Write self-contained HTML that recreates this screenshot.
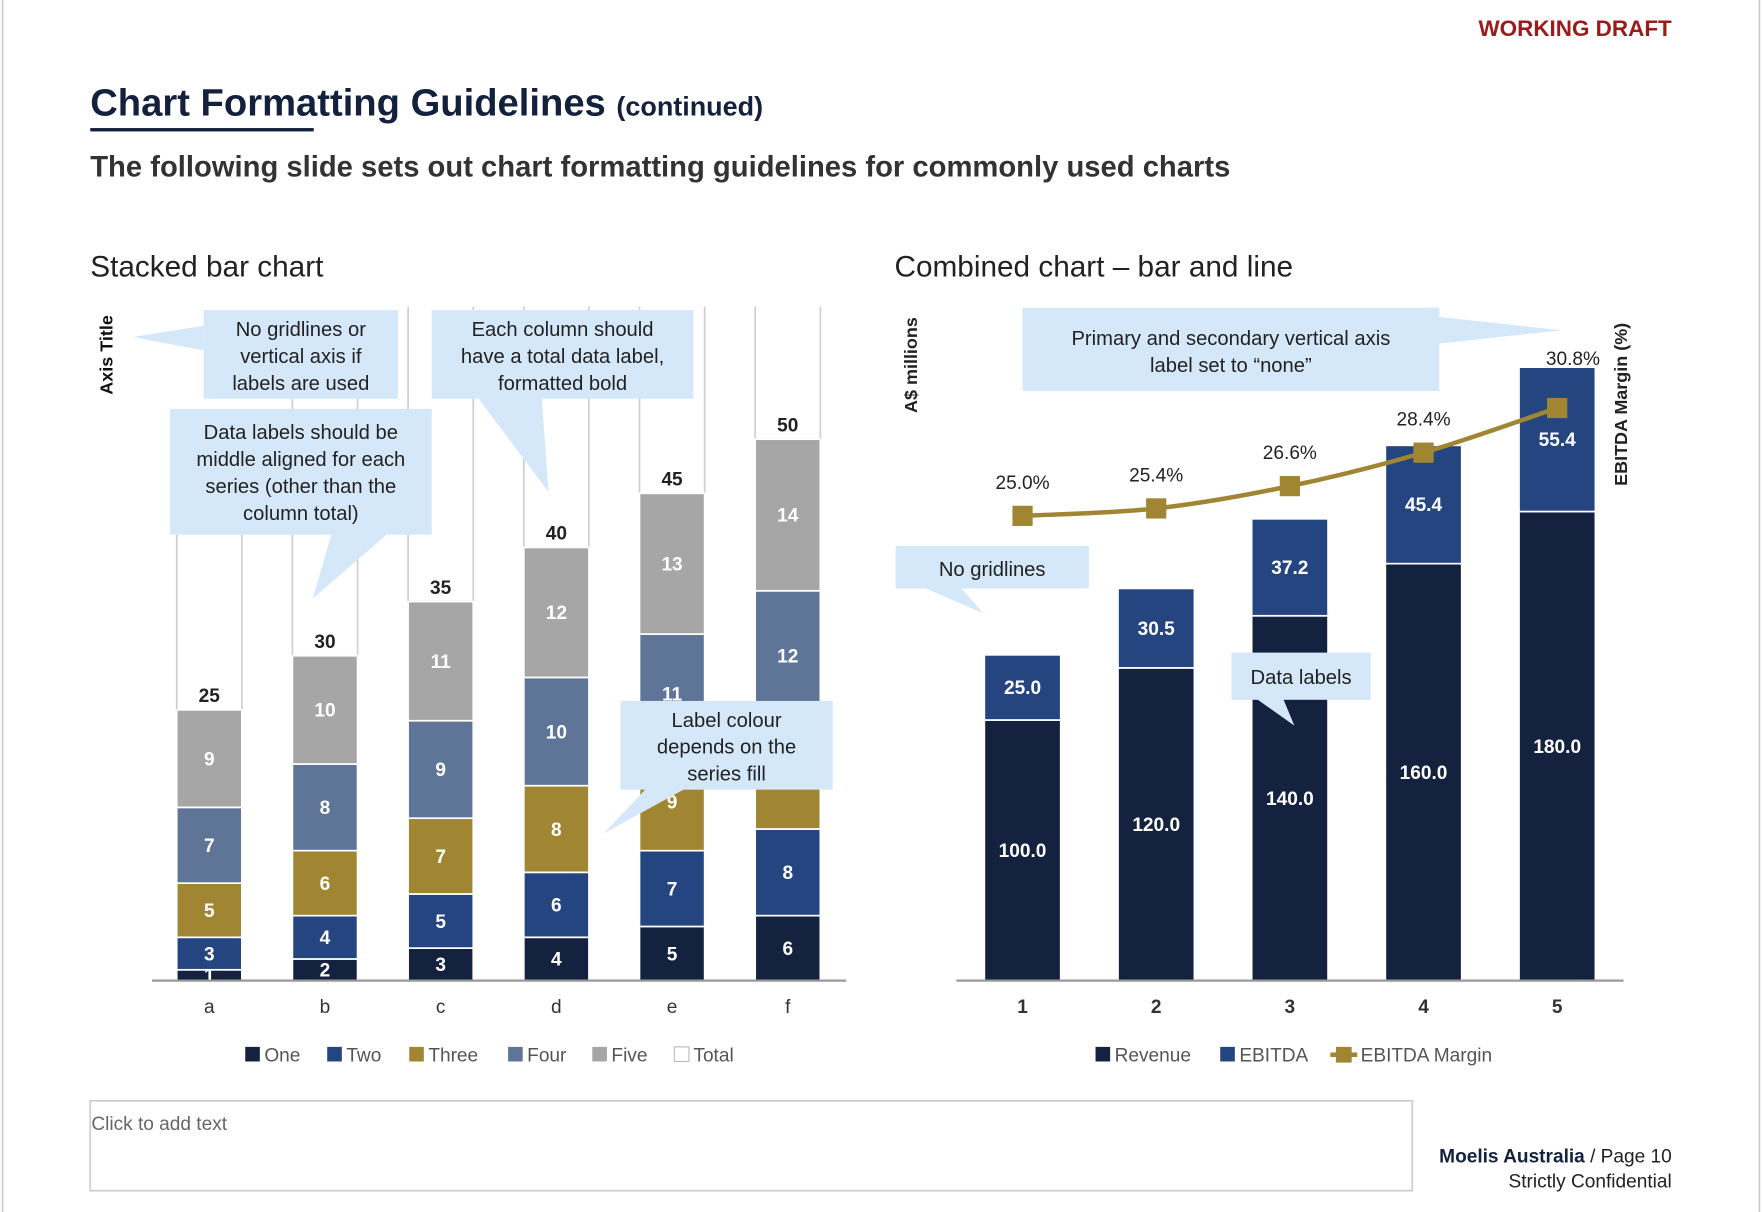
<!DOCTYPE html>
<html><head><meta charset="utf-8">
<style>
html,body{margin:0;padding:0;background:#fff;}
svg{display:block;font-family:"Liberation Sans",Arial,sans-serif;}
</style></head>
<body>
<svg id="root" width="1762" height="1212" viewBox="0 0 1568 1079">
<rect x="0" y="0" width="1568" height="1079" fill="#fff"/>
<line x1="2" y1="0" x2="2" y2="1079" stroke="#ccc" stroke-width="1.5"/>
<line x1="1566" y1="0" x2="1566" y2="1079" stroke="#ccc" stroke-width="1.5"/>
<text x="1488" y="32" text-anchor="end" font-size="20" font-weight="bold" fill="#9b1b1b">WORKING DRAFT</text>
<text x="80" y="103" font-size="34" font-weight="bold" fill="#14213d">Chart Formatting Guidelines <tspan font-size="24">(continued)</tspan></text>
<rect x="80" y="114" width="199" height="3" fill="#14213d"/>
<text x="80" y="157" font-size="26" font-weight="bold" fill="#333">The following slide sets out chart formatting guidelines for commonly used charts</text>
<text x="80" y="246" font-size="26.5" fill="#222">Stacked bar chart</text>
<text x="796" y="246" font-size="26.5" fill="#222">Combined chart – bar and line</text>

<g id="left"></g>
<g id="right"></g>
<g id="callouts"></g>

<rect x="80" y="980" width="1177" height="80" fill="#fff" stroke="#ccc" stroke-width="1.5"/>
<text x="81" y="1006" font-size="17" fill="#666">Click to add text</text>
<text x="1488" y="1035" text-anchor="end" font-size="17" fill="#222"><tspan font-weight="bold" fill="#14213d">Moelis Australia</tspan> / Page 10</text>
<text x="1488" y="1057" text-anchor="end" font-size="17" fill="#222">Strictly Confidential</text>
</svg>
<script>
const NS='http://www.w3.org/2000/svg';
function mk(parent,tag,attrs,text){const e=document.createElementNS(NS,tag);for(const k in attrs)e.setAttribute(k,attrs[k]);if(text!==undefined)e.textContent=text;parent.appendChild(e);return e;}

// ---- Stacked chart data ----
const stackCategories=['a','b','c','d','e','f'];
const seriesNames=['One','Two','Three','Four','Five'];
const seriesOne=[1,2,3,4,5,6];
const seriesTwo=[3,4,5,6,7,8];
const seriesThree=[5,6,7,8,9,10];
const seriesFour=[7,8,9,10,11,12];
const seriesFive=[9,10,11,12,13,14];
const seriesColors=['#15223f','#24457f','#a08633','#5f7597','#a6a6a6'];

// ---- Combined chart data ----
const comboCategories=['1','2','3','4','5'];
const revenue=[100,120,140,160,180];
const ebitda=[25,30.5,37.2,45.4,55.4];
const ebitdaMargin=[25.0,25.4,26.6,28.4,30.8];

// ---- Stacked chart ----
(function(){
  const g=document.getElementById('left');
  const base=873, top=273, pxPerUnit=9.64;
  const yS=v=>base-v*pxPerUnit;
  const xS=i=>186+i*103;
  const bw=58;
  const all=[seriesOne,seriesTwo,seriesThree,seriesFour,seriesFive];
  const clip=mk(g,'clipPath',{id:'lclip'});mk(clip,'rect',{x:100,y:top,width:700,height:base-top});
  stackCategories.forEach((c,i)=>{
    let cum=0;all.forEach(s=>cum+=s[i]);const total=cum;
    const tb=mk(g,'rect',{x:xS(i)-bw/2,y:yS(total*2),width:bw,height:yS(total)-yS(total*2),fill:'#fff',stroke:'#cfcfcf','stroke-width':1.5,'clip-path':'url(#lclip)'});
    
    
    let acc=0;
    all.forEach((s,k)=>{
      const v=s[i];
      const r=mk(g,'rect',{x:xS(i)-bw/2,y:yS(acc+v),width:bw,height:yS(acc)-yS(acc+v),fill:seriesColors[k],stroke:'#fff','stroke-width':1.5});
      
      
      const t=mk(g,'text',{x:xS(i),y:(yS(acc)+yS(acc+v))/2+6,'text-anchor':'middle','font-size':17,'font-weight':'bold',fill:'#fff'},String(v));
      
      
      acc+=v;
    });
    const tl=mk(g,'text',{x:xS(i),y:yS(total)-7,'text-anchor':'middle','font-size':17,'font-weight':'900',fill:'#222'},String(total));
    
    
    const xl=mk(g,'text',{x:xS(i),y:902,'text-anchor':'middle','font-size':17,fill:'#333'},c);
    
    
  });
  const ax=mk(g,'line',{x1:135,y1:base,x2:753,y2:base,stroke:'#999','stroke-width':2});
  
  
  const at=mk(g,'text',{transform:'translate(100,316) rotate(-90)','text-anchor':'middle','font-size':16,'font-weight':'900',fill:'#111'},'Axis Title');
  
  
  const lx=[218,291,364,452,527,600];
  ['One','Two','Three','Four','Five','Total'].forEach((n,k)=>{
    const sw=mk(g,'rect',{x:lx[k],y:932,width:13,height:13,fill:k<5?seriesColors[k]:'#fff',stroke:k<5?'none':'#bbb'});
    
    
    const t=mk(g,'text',{x:lx[k]+17,y:945,'font-size':17,fill:'#555'},n);
    
    
  });
})();

// ---- Combined chart ----
(function(){
  const g=document.getElementById('right');
  const base=873, pxPerUnit=2.32, pxPerPct=16.55;
  const yS=v=>base-v*pxPerUnit;
  const y2=v=>base-v*pxPerPct;
  const xS=i=>910+i*119;
  const bw=68;
  comboCategories.forEach((c,i)=>{
    const r=mk(g,'rect',{x:xS(i)-bw/2,y:yS(revenue[i]),width:bw,height:yS(0)-yS(revenue[i]),fill:'#15223f',stroke:'#fff','stroke-width':1.5});
    
    
    const e=mk(g,'rect',{x:xS(i)-bw/2,y:yS(revenue[i]+ebitda[i]),width:bw,height:yS(revenue[i])-yS(revenue[i]+ebitda[i]),fill:'#24457f',stroke:'#fff','stroke-width':1.5});
    
    
    const t1=mk(g,'text',{x:xS(i),y:(yS(0)+yS(revenue[i]))/2+6,'text-anchor':'middle','font-size':17,'font-weight':'bold',fill:'#fff'},revenue[i].toFixed(1));
    
    
    const t2=mk(g,'text',{x:xS(i),y:(yS(revenue[i])+yS(revenue[i]+ebitda[i]))/2+6,'text-anchor':'middle','font-size':17,'font-weight':'bold',fill:'#fff'},ebitda[i].toFixed(1));
    
    
    const xl=mk(g,'text',{x:xS(i),y:902,'text-anchor':'middle','font-size':17,'font-weight':'bold',fill:'#333'},c);
    
    
  });
  const pts=ebitdaMargin.map((v,i)=>[xS(i),y2(v)]);
  let d='M'+pts[0][0]+','+pts[0][1];
  for(let i=0;i<pts.length-1;i++){
    const p0=pts[Math.max(0,i-1)],p1=pts[i],p2=pts[i+1],p3=pts[Math.min(pts.length-1,i+2)];
    const c1=[p1[0]+(p2[0]-p0[0])/6,p1[1]+(p2[1]-p0[1])/6];
    const c2=[p2[0]-(p3[0]-p1[0])/6,p2[1]-(p3[1]-p1[1])/6];
    d+=' C'+c1+' '+c2+' '+p2;
  }
  const ln=mk(g,'path',{d:d,fill:'none',stroke:'#a08633','stroke-width':4});
  
  
  pts.forEach((p,i)=>{
    const m=mk(g,'rect',{x:p[0]-9,y:p[1]-9,width:18,height:18,fill:'#a08633'});
    
    
    const isLast=i===pts.length-1;
    const barTop=yS(revenue[i]+ebitda[i]);
    const ly=isLast?Math.min(p[1]-24,barTop-2):p[1]-24;
    const t=mk(g,'text',{x:p[0]+(isLast?14:0),y:ly,'text-anchor':'middle','font-size':17,fill:'#222'},ebitdaMargin[i].toFixed(1)+'%');
    
    
  });
  const ax=mk(g,'line',{x1:851,y1:base,x2:1445,y2:base,stroke:'#999','stroke-width':2});
  
  
  const a1=mk(g,'text',{transform:'translate(816,325) rotate(-90)','text-anchor':'middle','font-size':16,'font-weight':'bold',fill:'#222'},'A$ millions');
  
  
  const a2=mk(g,'text',{transform:'translate(1448,360) rotate(-90)','text-anchor':'middle','font-size':16,'font-weight':'bold',fill:'#222'},'EBITDA Margin (%)');
  
  
  const s1=mk(g,'rect',{x:975,y:932,width:13,height:13,fill:'#15223f'});
  
  
  const l1=mk(g,'text',{x:992,y:945,'font-size':17,fill:'#555'},'Revenue');
  
  
  const s2=mk(g,'rect',{x:1086,y:932,width:13,height:13,fill:'#24457f'});
  
  
  const l2=mk(g,'text',{x:1103,y:945,'font-size':17,fill:'#555'},'EBITDA');
  
  
  const s3=mk(g,'line',{x1:1184,y1:939,x2:1208,y2:939,stroke:'#a08633','stroke-width':4});
  
  
  mk(g,'rect',{x:1189,y:932,width:14,height:14,fill:'#a08633'});
  const l3=mk(g,'text',{x:1211,y:945,'font-size':17,fill:'#555'},'EBITDA Margin');
  
  
})();

// ---- Callouts ----
(function(){
  const g=document.getElementById('callouts');
  const fill='#d5e8f9';
  const callouts=[
    {n:'callout-no-gridlines-axis',x:181,y:276,w:173,h:79,tri:'181,290 181,312 118,300',lines:['No gridlines or','vertical axis if','labels are used'],ty:299},
    {n:'callout-total-label',x:384,y:276,w:233,h:79,tri:'425,354 482,354 488,438',lines:['Each column should','have a total data label,','formatted bold'],ty:299},
    {n:'callout-middle-aligned',x:151,y:364,w:233,h:112,tri:'295,475 345,475 278,533',lines:['Data labels should be','middle aligned for each','series (other than the','column total)'],ty:391},
    {n:'callout-label-colour',x:552,y:624,w:189,h:79,tri:'575,702 610,702 537,742',lines:['Label colour','depends on the','series fill'],ty:647},
    {n:'callout-axis-none',x:910,y:274,w:371,h:74,tri:'1280,282 1280,306 1390,294',lines:['Primary and secondary vertical axis','label set to “none”'],ty:307},
    {n:'callout-no-gridlines',x:797,y:486,w:172,h:38,tri:'822,523 855,523 875,546',lines:['No gridlines'],ty:513},
    {n:'callout-data-labels',x:1096,y:581,w:124,h:42,tri:'1118,622 1142,622 1152,646',lines:['Data labels'],ty:609}
  ];
  callouts.forEach(c=>{
    const grp=mk(g,'g',{});
    
    
    mk(grp,'polygon',{points:c.tri,fill:fill});
    mk(grp,'rect',{x:c.x,y:c.y,width:c.w,height:c.h,fill:fill});
    c.lines.forEach((l,k)=>mk(grp,'text',{x:c.x+c.w/2,y:c.ty+k*24,'text-anchor':'middle','font-size':18,fill:'#222'},l));
  });
})();
</script>
</body></html>
